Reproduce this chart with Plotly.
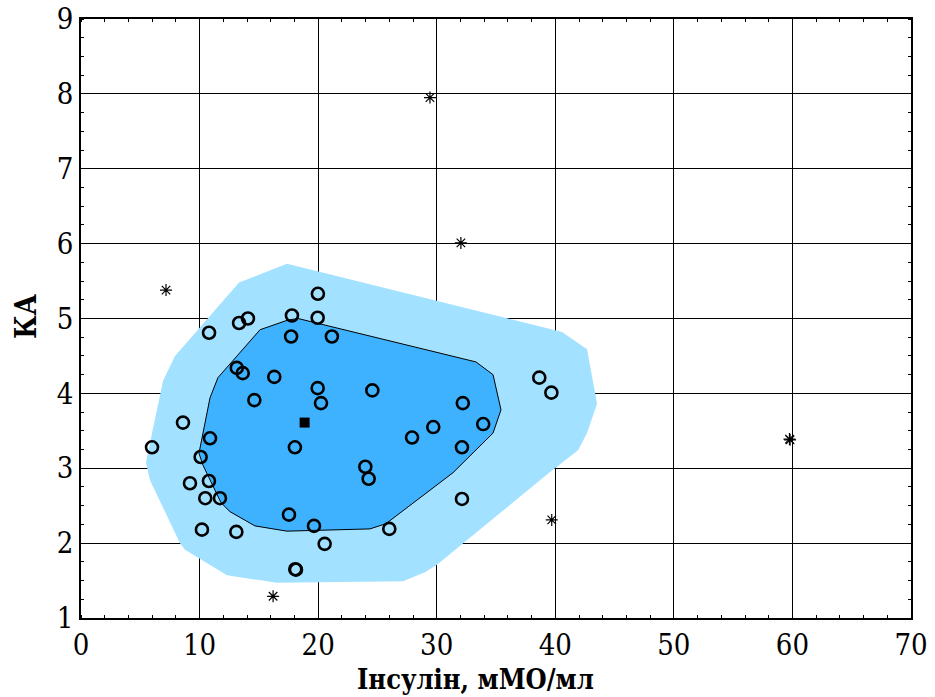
import plotly.graph_objects as go

# Observed points (circles)
circ_x = [5.99, 8.6, 10.8, 13.33, 14.08, 17.79, 19.98, 19.96, 17.72, 21.16,
          13.14, 13.64, 16.3, 19.96, 20.24, 14.62, 24.57, 32.2, 38.65, 39.67,
          29.71, 27.92, 33.92, 32.13, 18.04, 10.88, 10.09, 10.79, 9.19, 10.48,
          11.72, 23.98, 24.26, 32.13, 17.54, 10.2, 13.1, 19.65, 20.55, 26.0,
          18.13, 18.07]
circ_y = [3.28, 3.61, 4.81, 4.94, 5.0, 5.04, 5.33, 5.01, 4.76, 4.76,
          4.34, 4.27, 4.22, 4.07, 3.87, 3.91, 4.04, 3.87, 4.21, 4.01,
          3.55, 3.41, 3.59, 3.28, 3.28, 3.4, 3.15, 2.83, 2.8, 2.6,
          2.6, 3.02, 2.86, 2.59, 2.38, 2.18, 2.15, 2.23, 1.99, 2.19,
          1.645, 1.652]

# Outliers (asterisks)
out_x = [29.43, 32.04, 7.17, 59.8, 59.75, 39.7, 16.2]
out_y = [7.95, 6.01, 5.38, 3.38, 3.39, 2.31, 1.29]

# Median / center (square)
med_x = [18.86]
med_y = [3.61]

# Outer region (fence)
outer_x = [17.37, 13.33, 7.93, 6.92, 5.48, 5.82, 8.35, 8.77, 12.31, 16.53,
           27.16, 29.01, 30.02, 39.56, 41.92, 42.68, 43.52, 42.68, 40.57, 17.37]
outer_y = [5.73, 5.48, 4.5, 4.17, 3.08, 2.84, 2.0, 1.91, 1.57, 1.47,
           1.49, 1.61, 1.71, 2.95, 3.24, 3.47, 3.86, 4.59, 4.82, 5.73]

# Inner region (bag)
inner_x = [15.1, 17.46, 18.3, 33.31, 34.75, 35.25, 35.42, 34.75, 33.9, 31.37,
           25.72, 24.37, 17.37, 14.67, 12.57, 11.81, 10.29, 9.95, 10.88, 11.55, 15.1]
inner_y = [4.85, 4.98, 5.0, 4.42, 4.25, 3.91, 3.78, 3.47, 3.34, 2.94,
           2.26, 2.19, 2.16, 2.23, 2.42, 2.54, 3.04, 3.2, 3.94, 4.21, 4.85]

x_ticks = [0, 10, 20, 30, 40, 50, 60, 70]
y_ticks = [1, 2, 3, 4, 5, 6, 7, 8, 9]

fig = go.Figure()
fig.add_trace(go.Scatter(x=outer_x, y=outer_y, mode="lines", fill="toself",
                         fillcolor="#A2E1FF", line=dict(width=0, color="#A2E1FF"),
                         hoverinfo="skip", showlegend=False))
fig.add_trace(go.Scatter(x=inner_x, y=inner_y, mode="lines", fill="toself",
                         fillcolor="#3FB2FF", line=dict(width=1, color="black"),
                         hoverinfo="skip", showlegend=False))
fig.add_trace(go.Scatter(x=circ_x, y=circ_y, mode="markers",
                         marker=dict(symbol="circle-open", size=12, color="black",
                                     line=dict(width=2.6, color="black")),
                         showlegend=False))
fig.add_trace(go.Scatter(x=out_x, y=out_y, mode="markers",
                         marker=dict(symbol="asterisk-open", size=10, color="black",
                                     line=dict(width=1.2, color="black")),
                         showlegend=False))
fig.add_trace(go.Scatter(x=med_x, y=med_y, mode="markers",
                         marker=dict(symbol="square", size=10, color="black"),
                         showlegend=False))

ff = "DejaVu Serif Condensed, DejaVu Serif"

fig.update_layout(
    width=935, height=697,
    margin=dict(l=81, r=24, t=19, b=79, autoexpand=False),
    paper_bgcolor="white", plot_bgcolor="white",
    font=dict(family=ff, color="black", size=29),
    showlegend=False,
    annotations=[
        dict(text="<b>Інсулін, мМО/мл</b>", xref="paper", yref="paper",
             x=0.475, y=-0.103, xanchor="center", yanchor="middle",
             showarrow=False, font=dict(size=27, family=ff)),
        dict(text="<b>КА</b>", xref="paper", yref="paper",
             x=-0.067, y=0.503, xanchor="center", yanchor="middle", textangle=-90,
             showarrow=False, font=dict(size=29, family=ff)),
    ],
)
fig.update_xaxes(range=[0, 70], tickvals=x_ticks, ticktext=[str(v) for v in x_ticks],
                 automargin=False,
                 showgrid=True, gridcolor="black", gridwidth=1,
                 showline=True, linecolor="black", linewidth=1.5, mirror="ticks",
                 ticks="", zeroline=False,
                 minor=dict(ticks="inside", dtick=2, ticklen=3, tickcolor="black", tickwidth=1, showgrid=False),
                 tickfont=dict(size=29, family=ff))
fig.update_yaxes(range=[1, 9], tickvals=y_ticks, ticktext=[str(v) for v in y_ticks],
                 automargin=False,
                 showgrid=True, gridcolor="black", gridwidth=1,
                 showline=True, linecolor="black", linewidth=1.5, mirror="ticks",
                 ticks="", zeroline=False,
                 minor=dict(ticks="inside", dtick=0.25, ticklen=3, tickcolor="black", tickwidth=1, showgrid=False),
                 tickfont=dict(size=29, family=ff))

fig.write_html("out.html")
